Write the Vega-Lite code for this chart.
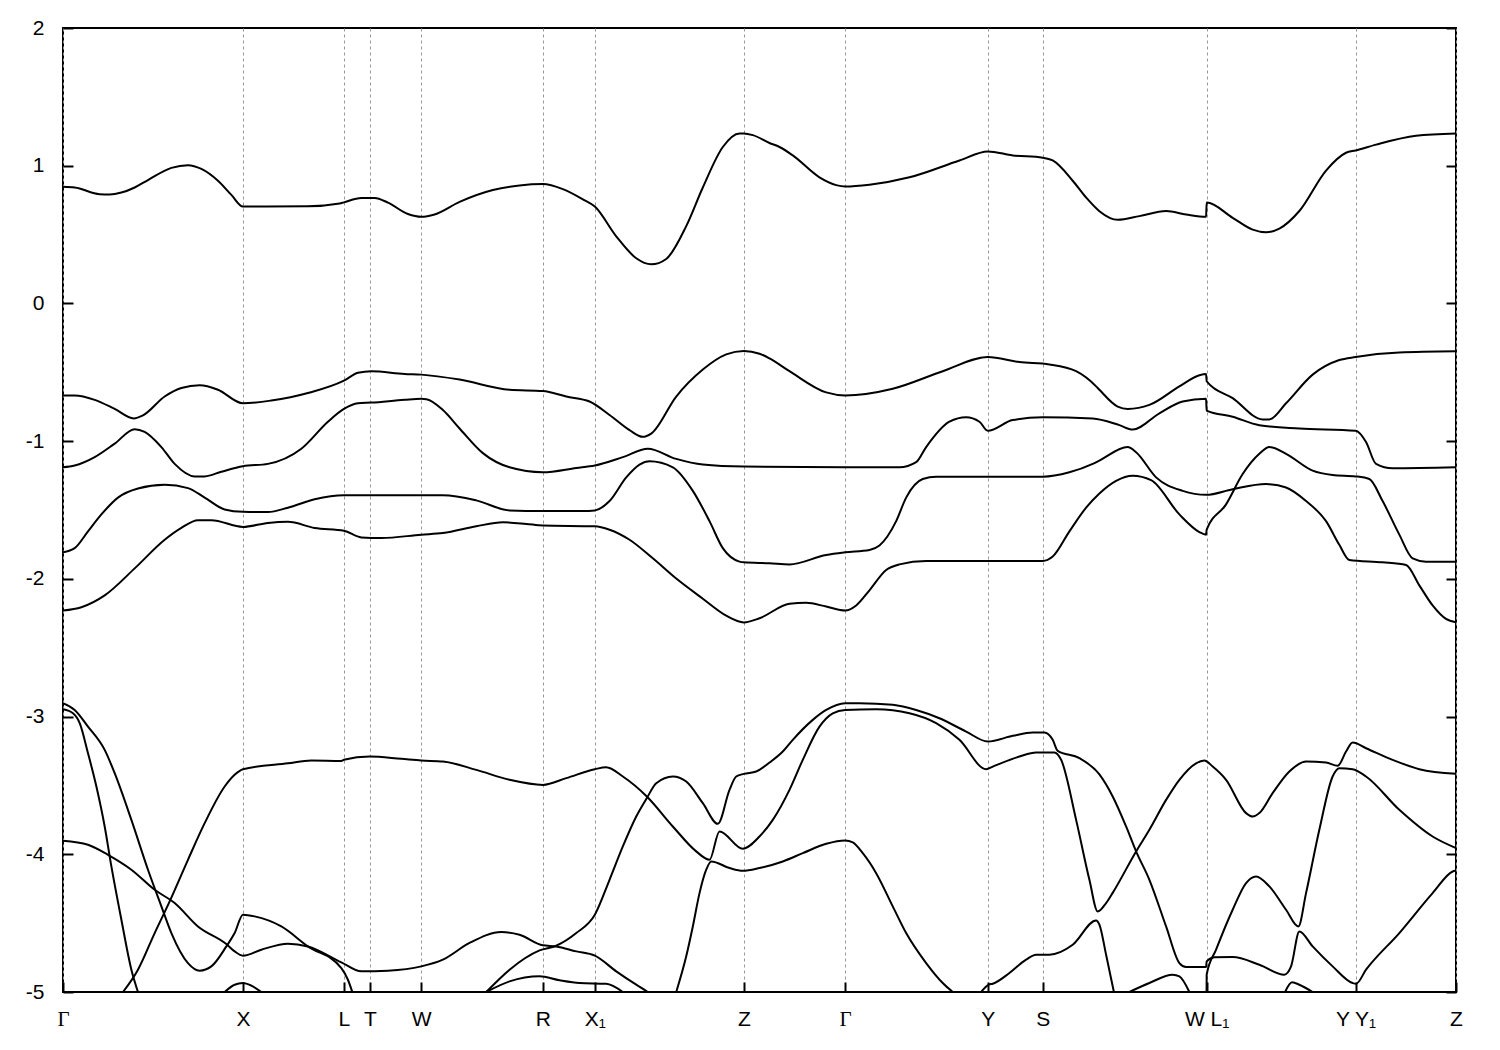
{
"$schema":"https://vega.github.io/schema/vega-lite/v6.json",
"width":1393,"height":964,
"autosize":{"type":"none"},
"padding":{"left":63,"top":28,"right":44,"bottom":58},
"background":"white",
"config":{"view":{"stroke":"black","strokeWidth":2},"axis":{"domain":false,"labelFont":"Liberation Sans","labelFontSize":21,"labelColor":"black","tickColor":"black","tickWidth":2,"tickSize":-10,"title":null,"labelFlush":false,"labelOverlap":false}},
"datasets":{"bands":[
{"b":"C","k":63.3,"e":0.847},{"b":"C","k":75,"e":0.842},{"b":"C","k":100,"e":0.793},{"b":"C","k":110,"e":0.791},{"b":"C","k":121.7,"e":0.805},{"b":"C","k":135,"e":0.842},{"b":"C","k":148.3,"e":0.896},{"b":"C","k":171.7,"e":0.984},{"b":"C","k":188.3,"e":1.004},{"b":"C","k":201.7,"e":0.977},{"b":"C","k":218.3,"e":0.891},{"b":"C","k":231.7,"e":0.788},{"b":"C","k":243.3,"e":0.703},{"b":"C","k":308.3,"e":0.705},{"b":"C","k":340,"e":0.725},{"b":"C","k":344.3,"e":0.734},{"b":"C","k":361.7,"e":0.766},{"b":"C","k":375,"e":0.766},{"b":"C","k":388.3,"e":0.732},{"b":"C","k":408.3,"e":0.649},{"b":"C","k":421.7,"e":0.629},{"b":"C","k":435,"e":0.646},{"b":"C","k":460,"e":0.737},{"b":"C","k":493.3,"e":0.823},{"b":"C","k":520,"e":0.857},{"b":"C","k":543.3,"e":0.867},{"b":"C","k":563.3,"e":0.83},{"b":"C","k":583.3,"e":0.756},{"b":"C","k":595.3,"e":0.703},{"b":"C","k":616.7,"e":0.487},{"b":"C","k":636.7,"e":0.328},{"b":"C","k":651.7,"e":0.284},{"b":"C","k":666.7,"e":0.323},{"b":"C","k":686.7,"e":0.561},{"b":"C","k":703.3,"e":0.842},{"b":"C","k":723.3,"e":1.136},{"b":"C","k":740,"e":1.234},{"b":"C","k":744.3,"e":1.234},{"b":"C","k":753.3,"e":1.222},{"b":"C","k":770,"e":1.165},{"b":"C","k":780,"e":1.136},{"b":"C","k":793.3,"e":1.075},{"b":"C","k":820,"e":0.916},{"b":"C","k":836.7,"e":0.859},{"b":"C","k":845.7,"e":0.849},{"b":"C","k":870,"e":0.862},{"b":"C","k":910,"e":0.916},{"b":"C","k":960,"e":1.038},{"b":"C","k":988.3,"e":1.104},{"b":"C","k":1013.3,"e":1.075},{"b":"C","k":1043.3,"e":1.058},{"b":"C","k":1053.3,"e":1.038},{"b":"C","k":1073.3,"e":0.891},{"b":"C","k":1086.7,"e":0.769},{"b":"C","k":1100,"e":0.67},{"b":"C","k":1118.3,"e":0.607},{"b":"C","k":1140,"e":0.634},{"b":"C","k":1166.7,"e":0.671},{"b":"C","k":1186.7,"e":0.646},{"b":"C","k":1206.7,"e":0.629},{"b":"C","k":1207.3,"e":0.732},{"b":"C","k":1233.3,"e":0.622},{"b":"C","k":1253.3,"e":0.536},{"b":"C","k":1266.7,"e":0.517},{"b":"C","k":1280,"e":0.543},{"b":"C","k":1300,"e":0.671},{"b":"C","k":1326.7,"e":0.965},{"b":"C","k":1346.7,"e":1.094},{"b":"C","k":1356.3,"e":1.111},{"b":"C","k":1376.7,"e":1.153},{"b":"C","k":1416.7,"e":1.217},{"b":"C","k":1456.7,"e":1.234},
{"b":"V1","k":63.3,"e":-0.668},{"b":"V1","k":75,"e":-0.668},{"b":"V1","k":95,"e":-0.7},{"b":"V1","k":115,"e":-0.766},{"b":"V1","k":134,"e":-0.835},{"b":"V1","k":143.3,"e":-0.813},{"b":"V1","k":165,"e":-0.676},{"b":"V1","k":181.7,"e":-0.614},{"b":"V1","k":200,"e":-0.595},{"b":"V1","k":218.3,"e":-0.627},{"b":"V1","k":243.3,"e":-0.725},{"b":"V1","k":271.7,"e":-0.705},{"b":"V1","k":308.3,"e":-0.651},{"b":"V1","k":344.3,"e":-0.561},{"b":"V1","k":358.3,"e":-0.504},{"b":"V1","k":371.7,"e":-0.492},{"b":"V1","k":405,"e":-0.512},{"b":"V1","k":421.7,"e":-0.517},{"b":"V1","k":460,"e":-0.553},{"b":"V1","k":510,"e":-0.627},{"b":"V1","k":543.3,"e":-0.636},{"b":"V1","k":566.7,"e":-0.676},{"b":"V1","k":590,"e":-0.712},{"b":"V1","k":610,"e":-0.81},{"b":"V1","k":630,"e":-0.92},{"b":"V1","k":643.3,"e":-0.969},{"b":"V1","k":651.7,"e":-0.945},{"b":"V1","k":676.7,"e":-0.676},{"b":"V1","k":703.3,"e":-0.48},{"b":"V1","k":726.7,"e":-0.37},{"b":"V1","k":744.3,"e":-0.345},{"b":"V1","k":760,"e":-0.365},{"b":"V1","k":770,"e":-0.399},{"b":"V1","k":790,"e":-0.492},{"b":"V1","k":826.7,"e":-0.646},{"b":"V1","k":845.7,"e":-0.668},{"b":"V1","k":893.3,"e":-0.619},{"b":"V1","k":943.3,"e":-0.492},{"b":"V1","k":988.3,"e":-0.389},{"b":"V1","k":1020,"e":-0.426},{"b":"V1","k":1050,"e":-0.443},{"b":"V1","k":1076.7,"e":-0.492},{"b":"V1","k":1096.7,"e":-0.602},{"b":"V1","k":1100,"e":-0.627},{"b":"V1","k":1118.3,"e":-0.749},{"b":"V1","k":1128.3,"e":-0.766},{"b":"V1","k":1150,"e":-0.737},{"b":"V1","k":1180,"e":-0.602},{"b":"V1","k":1200,"e":-0.521},{"b":"V1","k":1206.7,"e":-0.512},{"b":"V1","k":1207.3,"e":-0.565},{"b":"V1","k":1233.3,"e":-0.688},{"b":"V1","k":1263.3,"e":-0.842},{"b":"V1","k":1270,"e":-0.842},{"b":"V1","k":1286.7,"e":-0.725},{"b":"V1","k":1313.3,"e":-0.517},{"b":"V1","k":1340,"e":-0.411},{"b":"V1","k":1356.3,"e":-0.389},{"b":"V1","k":1400,"e":-0.357},{"b":"V1","k":1456.7,"e":-0.348},
{"b":"V2","k":63.3,"e":-1.19},{"b":"V2","k":75,"e":-1.177},{"b":"V2","k":95,"e":-1.116},{"b":"V2","k":115,"e":-1.018},{"b":"V2","k":135,"e":-0.913},{"b":"V2","k":145,"e":-0.933},{"b":"V2","k":161.7,"e":-1.043},{"b":"V2","k":175,"e":-1.165},{"b":"V2","k":195,"e":-1.256},{"b":"V2","k":205,"e":-1.256},{"b":"V2","k":221.7,"e":-1.222},{"b":"V2","k":243.3,"e":-1.182},{"b":"V2","k":268.3,"e":-1.165},{"b":"V2","k":301.7,"e":-1.055},{"b":"V2","k":328.3,"e":-0.859},{"b":"V2","k":344.3,"e":-0.766},{"b":"V2","k":358.3,"e":-0.725},{"b":"V2","k":371.7,"e":-0.72},{"b":"V2","k":405,"e":-0.7},{"b":"V2","k":421.7,"e":-0.693},{"b":"V2","k":426.7,"e":-0.695},{"b":"V2","k":443.3,"e":-0.774},{"b":"V2","k":460,"e":-0.908},{"b":"V2","k":483.3,"e":-1.087},{"b":"V2","k":510,"e":-1.19},{"b":"V2","k":543.3,"e":-1.226},{"b":"V2","k":576.7,"e":-1.195},{"b":"V2","k":595.3,"e":-1.177},{"b":"V2","k":623.3,"e":-1.116},{"b":"V2","k":648.3,"e":-1.055},{"b":"V2","k":676.7,"e":-1.129},{"b":"V2","k":703.3,"e":-1.17},{"b":"V2","k":744.3,"e":-1.185},{"b":"V2","k":845.7,"e":-1.19},{"b":"V2","k":900,"e":-1.19},{"b":"V2","k":916.7,"e":-1.153},{"b":"V2","k":926.7,"e":-1.043},{"b":"V2","k":950,"e":-0.859},{"b":"V2","k":966.7,"e":-0.827},{"b":"V2","k":980,"e":-0.859},{"b":"V2","k":988.3,"e":-0.925},{"b":"V2","k":1013.3,"e":-0.847},{"b":"V2","k":1043.3,"e":-0.827},{"b":"V2","k":1093.3,"e":-0.835},{"b":"V2","k":1120,"e":-0.884},{"b":"V2","k":1133.3,"e":-0.916},{"b":"V2","k":1160,"e":-0.798},{"b":"V2","k":1183.3,"e":-0.712},{"b":"V2","k":1206.7,"e":-0.693},{"b":"V2","k":1207.3,"e":-0.778},{"b":"V2","k":1233.3,"e":-0.823},{"b":"V2","k":1260,"e":-0.884},{"b":"V2","k":1300,"e":-0.908},{"b":"V2","k":1356.3,"e":-0.925},{"b":"V2","k":1366.7,"e":-1.006},{"b":"V2","k":1376.7,"e":-1.165},{"b":"V2","k":1393.3,"e":-1.197},{"b":"V2","k":1456.7,"e":-1.19},
{"b":"V3","k":63.3,"e":-1.807},{"b":"V3","k":75,"e":-1.777},{"b":"V3","k":88.3,"e":-1.655},{"b":"V3","k":101.7,"e":-1.532},{"b":"V3","k":118.3,"e":-1.41},{"b":"V3","k":138.3,"e":-1.344},{"b":"V3","k":165,"e":-1.317},{"b":"V3","k":188.3,"e":-1.341},{"b":"V3","k":205,"e":-1.41},{"b":"V3","k":225,"e":-1.496},{"b":"V3","k":243.3,"e":-1.513},{"b":"V3","k":268.3,"e":-1.515},{"b":"V3","k":288.3,"e":-1.483},{"b":"V3","k":315,"e":-1.422},{"b":"V3","k":344.3,"e":-1.393},{"b":"V3","k":443.3,"e":-1.393},{"b":"V3","k":476.7,"e":-1.43},{"b":"V3","k":510,"e":-1.503},{"b":"V3","k":543.3,"e":-1.508},{"b":"V3","k":583.3,"e":-1.508},{"b":"V3","k":595.3,"e":-1.503},{"b":"V3","k":610,"e":-1.435},{"b":"V3","k":626.7,"e":-1.263},{"b":"V3","k":640,"e":-1.17},{"b":"V3","k":650,"e":-1.146},{"b":"V3","k":673.3,"e":-1.19},{"b":"V3","k":693.3,"e":-1.361},{"b":"V3","k":710,"e":-1.581},{"b":"V3","k":723.3,"e":-1.777},{"b":"V3","k":740,"e":-1.875},{"b":"V3","k":744.3,"e":-1.88},{"b":"V3","k":770,"e":-1.887},{"b":"V3","k":790,"e":-1.895},{"b":"V3","k":826.7,"e":-1.826},{"b":"V3","k":845.7,"e":-1.807},{"b":"V3","k":870,"e":-1.79},{"b":"V3","k":880,"e":-1.758},{"b":"V3","k":896.7,"e":-1.581},{"b":"V3","k":906.7,"e":-1.41},{"b":"V3","k":923.3,"e":-1.275},{"b":"V3","k":936.7,"e":-1.258},{"b":"V3","k":1043.3,"e":-1.258},{"b":"V3","k":1070,"e":-1.226},{"b":"V3","k":1093.3,"e":-1.165},{"b":"V3","k":1100,"e":-1.141},{"b":"V3","k":1128.3,"e":-1.043},{"b":"V3","k":1136.7,"e":-1.08},{"b":"V3","k":1156.7,"e":-1.263},{"b":"V3","k":1183.3,"e":-1.361},{"b":"V3","k":1206.7,"e":-1.39},{"b":"V3","k":1233.3,"e":-1.349},{"b":"V3","k":1266.7,"e":-1.312},{"b":"V3","k":1286.7,"e":-1.337},{"b":"V3","k":1306.7,"e":-1.435},{"b":"V3","k":1326.7,"e":-1.581},{"b":"V3","k":1340,"e":-1.753},{"b":"V3","k":1350,"e":-1.863},{"b":"V3","k":1383.3,"e":-1.88},{"b":"V3","k":1406.7,"e":-1.9},{"b":"V3","k":1420,"e":-2.047},{"b":"V3","k":1433.3,"e":-2.193},{"b":"V3","k":1446.7,"e":-2.291},{"b":"V3","k":1456.7,"e":-2.316},
{"b":"V4","k":63.3,"e":-2.23},{"b":"V4","k":81.7,"e":-2.206},{"b":"V4","k":105,"e":-2.12},{"b":"V4","k":135,"e":-1.924},{"b":"V4","k":165,"e":-1.716},{"b":"V4","k":181.7,"e":-1.63},{"b":"V4","k":198.3,"e":-1.574},{"b":"V4","k":211.7,"e":-1.574},{"b":"V4","k":243.3,"e":-1.623},{"b":"V4","k":268.3,"e":-1.594},{"b":"V4","k":288.3,"e":-1.586},{"b":"V4","k":315,"e":-1.63},{"b":"V4","k":344.3,"e":-1.65},{"b":"V4","k":361.7,"e":-1.699},{"b":"V4","k":381.7,"e":-1.704},{"b":"V4","k":421.7,"e":-1.679},{"b":"V4","k":443.3,"e":-1.667},{"b":"V4","k":476.7,"e":-1.618},{"b":"V4","k":503.3,"e":-1.589},{"b":"V4","k":526.7,"e":-1.601},{"b":"V4","k":543.3,"e":-1.613},{"b":"V4","k":595.3,"e":-1.618},{"b":"V4","k":610,"e":-1.643},{"b":"V4","k":630,"e":-1.716},{"b":"V4","k":653.3,"e":-1.851},{"b":"V4","k":676.7,"e":-1.998},{"b":"V4","k":703.3,"e":-2.144},{"b":"V4","k":726.7,"e":-2.267},{"b":"V4","k":744.3,"e":-2.316},{"b":"V4","k":760,"e":-2.286},{"b":"V4","k":790,"e":-2.181},{"b":"V4","k":806.7,"e":-2.174},{"b":"V4","k":826.7,"e":-2.201},{"b":"V4","k":845.7,"e":-2.23},{"b":"V4","k":856.7,"e":-2.193},{"b":"V4","k":870,"e":-2.083},{"b":"V4","k":886.7,"e":-1.936},{"b":"V4","k":900,"e":-1.895},{"b":"V4","k":926.7,"e":-1.87},{"b":"V4","k":1043.3,"e":-1.87},{"b":"V4","k":1053.3,"e":-1.838},{"b":"V4","k":1070,"e":-1.655},{"b":"V4","k":1086.7,"e":-1.483},{"b":"V4","k":1100,"e":-1.38},{"b":"V4","k":1116.7,"e":-1.288},{"b":"V4","k":1133.3,"e":-1.251},{"b":"V4","k":1151.7,"e":-1.283},{"b":"V4","k":1180,"e":-1.532},{"b":"V4","k":1200,"e":-1.66},{"b":"V4","k":1206.7,"e":-1.679},{"b":"V4","k":1207.3,"e":-1.643},{"b":"V4","k":1226.7,"e":-1.459},{"b":"V4","k":1243.3,"e":-1.239},{"b":"V4","k":1260,"e":-1.092},{"b":"V4","k":1270,"e":-1.043},{"b":"V4","k":1286.7,"e":-1.092},{"b":"V4","k":1313.3,"e":-1.214},{"b":"V4","k":1333.3,"e":-1.246},{"b":"V4","k":1356.3,"e":-1.256},{"b":"V4","k":1370,"e":-1.275},{"b":"V4","k":1383.3,"e":-1.435},{"b":"V4","k":1400,"e":-1.679},{"b":"V4","k":1413.3,"e":-1.851},{"b":"V4","k":1426.7,"e":-1.875},{"b":"V4","k":1456.7,"e":-1.875},
{"b":"A","k":63.3,"e":-2.903},{"b":"A","k":75,"e":-2.952},{"b":"A","k":88.3,"e":-3.073},{"b":"A","k":105,"e":-3.242},{"b":"A","k":115,"e":-3.411},{"b":"A","k":131.7,"e":-3.75},{"b":"A","k":148.3,"e":-4.112},{"b":"A","k":161.7,"e":-4.378},{"b":"A","k":171.7,"e":-4.572},{"b":"A","k":188.3,"e":-4.79},{"b":"A","k":200,"e":-4.845},{"b":"A","k":211.7,"e":-4.814},{"b":"A","k":226.7,"e":-4.669},{"b":"A","k":235,"e":-4.572},{"b":"A","k":243.3,"e":-4.439},{"b":"A","k":255,"e":-4.451},{"b":"A","k":281.7,"e":-4.524},{"b":"A","k":308.3,"e":-4.669},{"b":"A","k":341.7,"e":-4.826},{"b":"A","k":348.3,"e":-4.911},{"b":"A","k":352.7,"e":-5.0},
{"b":"B","k":63.3,"e":-3.902},{"b":"B","k":88.3,"e":-3.931},{"b":"B","k":108.3,"e":-4.004},{"b":"B","k":131.7,"e":-4.112},{"b":"B","k":155,"e":-4.258},{"b":"B","k":175,"e":-4.354},{"b":"B","k":198.3,"e":-4.524},{"b":"B","k":226.7,"e":-4.652},{"b":"B","k":235,"e":-4.705},{"b":"B","k":243.3,"e":-4.736},{"b":"B","k":261.7,"e":-4.693},{"b":"B","k":288.3,"e":-4.649},{"b":"B","k":308.3,"e":-4.669},{"b":"B","k":341.7,"e":-4.785},{"b":"B","k":361.7,"e":-4.85},{"b":"B","k":388.3,"e":-4.845},{"b":"B","k":421.7,"e":-4.814},{"b":"B","k":443.3,"e":-4.765},{"b":"B","k":470,"e":-4.644},{"b":"B","k":501.7,"e":-4.565},{"b":"B","k":520,"e":-4.584},{"b":"B","k":543.3,"e":-4.661},{"b":"B","k":556.7,"e":-4.669},{"b":"B","k":576.7,"e":-4.705},{"b":"B","k":595.3,"e":-4.736},{"b":"B","k":616.7,"e":-4.85},{"b":"B","k":636.7,"e":-4.947},{"b":"B","k":648.3,"e":-5.0},
{"b":"Cs","k":63.3,"e":-2.947},{"b":"Cs","k":73.3,"e":-2.976},{"b":"Cs","k":80,"e":-3.048},{"b":"Cs","k":88.3,"e":-3.266},{"b":"Cs","k":96.7,"e":-3.508},{"b":"Cs","k":105,"e":-3.798},{"b":"Cs","k":111.7,"e":-4.088},{"b":"Cs","k":121.7,"e":-4.475},{"b":"Cs","k":131.7,"e":-4.838},{"b":"Cs","k":138.3,"e":-5.0},
{"b":"D","k":123.3,"e":-5.0},{"b":"D","k":138.3,"e":-4.838},{"b":"D","k":155,"e":-4.572},{"b":"D","k":170,"e":-4.342},{"b":"D","k":188.3,"e":-4.04},{"b":"D","k":205,"e":-3.774},{"b":"D","k":225,"e":-3.508},{"b":"D","k":235,"e":-3.423},{"b":"D","k":243.3,"e":-3.382},{"b":"D","k":288.3,"e":-3.339},{"b":"D","k":311.7,"e":-3.319},{"b":"D","k":341.7,"e":-3.322},{"b":"D","k":344.3,"e":-3.314},{"b":"D","k":370,"e":-3.29},{"b":"D","k":401.7,"e":-3.307},{"b":"D","k":421.7,"e":-3.319},{"b":"D","k":443.3,"e":-3.326},{"b":"D","k":476.7,"e":-3.387},{"b":"D","k":510,"e":-3.459},{"b":"D","k":543.3,"e":-3.496},{"b":"D","k":566.7,"e":-3.447},{"b":"D","k":595.3,"e":-3.382},{"b":"D","k":606.7,"e":-3.368},{"b":"D","k":623.3,"e":-3.435},{"b":"D","k":647.3,"e":-3.58},{"b":"D","k":673.3,"e":-3.798},{"b":"D","k":696.7,"e":-3.979},{"b":"D","k":710,"e":-4.04},{"b":"D","k":720,"e":-3.834},{"b":"D","k":743.3,"e":-3.96},{"b":"D","k":760,"e":-3.871},{"b":"D","k":773.3,"e":-3.75},{"b":"D","k":790,"e":-3.532},{"b":"D","k":803.3,"e":-3.314},{"b":"D","k":820,"e":-3.073},{"b":"D","k":833.3,"e":-2.976},{"b":"D","k":845.7,"e":-2.952},{"b":"D","k":876.7,"e":-2.947},{"b":"D","k":910,"e":-2.976},{"b":"D","k":936.7,"e":-3.048},{"b":"D","k":960,"e":-3.169},{"b":"D","k":986.7,"e":-3.382},{"b":"D","k":993.3,"e":-3.363},{"b":"D","k":1020,"e":-3.29},{"b":"D","k":1036.7,"e":-3.261},{"b":"D","k":1055,"e":-3.261},{"b":"D","k":1061.7,"e":-3.314},{"b":"D","k":1076.7,"e":-3.75},{"b":"D","k":1090,"e":-4.185},{"b":"D","k":1098.3,"e":-4.415},{"b":"D","k":1106.7,"e":-4.354},{"b":"D","k":1113.3,"e":-4.28},{"b":"D","k":1136.7,"e":-3.979},{"b":"D","k":1150,"e":-3.822},{"b":"D","k":1166.7,"e":-3.605},{"b":"D","k":1180,"e":-3.459},{"b":"D","k":1196.7,"e":-3.339},{"b":"D","k":1205,"e":-3.319},{"b":"D","k":1213.3,"e":-3.363},{"b":"D","k":1226.7,"e":-3.459},{"b":"D","k":1246.7,"e":-3.701},{"b":"D","k":1253.3,"e":-3.726},{"b":"D","k":1260,"e":-3.701},{"b":"D","k":1273.3,"e":-3.556},{"b":"D","k":1290,"e":-3.399},{"b":"D","k":1306.7,"e":-3.326},{"b":"D","k":1326.7,"e":-3.334},{"b":"D","k":1338.3,"e":-3.358},{"b":"D","k":1346.7,"e":-3.254},{"b":"D","k":1353.3,"e":-3.189},{"b":"D","k":1366.7,"e":-3.23},{"b":"D","k":1393.3,"e":-3.314},{"b":"D","k":1420,"e":-3.382},{"b":"D","k":1456.7,"e":-3.416},
{"b":"F","k":486.7,"e":-5.0},{"b":"F","k":510,"e":-4.838},{"b":"F","k":540,"e":-4.698},{"b":"F","k":556.7,"e":-4.664},{"b":"F","k":576.7,"e":-4.572},{"b":"F","k":595.3,"e":-4.439},{"b":"F","k":610,"e":-4.185},{"b":"F","k":623.3,"e":-3.943},{"b":"F","k":636.7,"e":-3.726},{"b":"F","k":647.3,"e":-3.592},{"b":"F","k":656.7,"e":-3.484},{"b":"F","k":673.3,"e":-3.435},{"b":"F","k":686.7,"e":-3.472},{"b":"F","k":703.3,"e":-3.629},{"b":"F","k":718.3,"e":-3.779},{"b":"F","k":730,"e":-3.532},{"b":"F","k":736.7,"e":-3.435},{"b":"F","k":744.3,"e":-3.416},{"b":"F","k":756.7,"e":-3.399},{"b":"F","k":770,"e":-3.334},{"b":"F","k":783.3,"e":-3.254},{"b":"F","k":793.3,"e":-3.169},{"b":"F","k":813.3,"e":-3.024},{"b":"F","k":826.7,"e":-2.952},{"b":"F","k":845.7,"e":-2.903},{"b":"F","k":860,"e":-2.903},{"b":"F","k":893.3,"e":-2.915},{"b":"F","k":916.7,"e":-2.952},{"b":"F","k":940,"e":-3.012},{"b":"F","k":966.7,"e":-3.109},{"b":"F","k":988.3,"e":-3.181},{"b":"F","k":1013.3,"e":-3.14},{"b":"F","k":1033.3,"e":-3.116},{"b":"F","k":1045,"e":-3.116},{"b":"F","k":1053.3,"e":-3.169},{"b":"F","k":1058.3,"e":-3.249},{"b":"F","k":1080,"e":-3.302},{"b":"F","k":1100,"e":-3.42},{"b":"F","k":1113.3,"e":-3.58},{"b":"F","k":1126.7,"e":-3.798},{"b":"F","k":1136.7,"e":-3.979},{"b":"F","k":1150,"e":-4.185},{"b":"F","k":1166.7,"e":-4.524},{"b":"F","k":1180,"e":-4.79},{"b":"F","k":1186.7,"e":-4.819},{"b":"F","k":1206.7,"e":-4.819},{"b":"F","k":1207.3,"e":-4.778},{"b":"F","k":1215,"e":-4.748},{"b":"F","k":1233.3,"e":-4.746},{"b":"F","k":1260,"e":-4.802},{"b":"F","k":1285,"e":-4.874},{"b":"F","k":1291.7,"e":-4.814},{"b":"F","k":1300,"e":-4.56},{"b":"F","k":1313.3,"e":-4.669},{"b":"F","k":1333.3,"e":-4.814},{"b":"F","k":1353.3,"e":-4.935},{"b":"F","k":1356.7,"e":-4.94},{"b":"F","k":1366.7,"e":-4.838},{"b":"F","k":1400,"e":-4.572},{"b":"F","k":1433.3,"e":-4.282},{"b":"F","k":1453.3,"e":-4.125},{"b":"F","k":1456.7,"e":-4.117},
{"b":"R","k":676.7,"e":-5.0},{"b":"R","k":686.7,"e":-4.741},{"b":"R","k":693.3,"e":-4.524},{"b":"R","k":700,"e":-4.282},{"b":"R","k":706.7,"e":-4.112},{"b":"R","k":711.7,"e":-4.052},{"b":"R","k":730,"e":-4.1},{"b":"R","k":743.3,"e":-4.12},{"b":"R","k":760,"e":-4.1},{"b":"R","k":783.3,"e":-4.052},{"b":"R","k":803.3,"e":-3.992},{"b":"R","k":826.7,"e":-3.924},{"b":"R","k":845.7,"e":-3.9},{"b":"R","k":853.3,"e":-3.914},{"b":"R","k":863.3,"e":-3.992},{"b":"R","k":876.7,"e":-4.137},{"b":"R","k":893.3,"e":-4.378},{"b":"R","k":906.7,"e":-4.572},{"b":"R","k":926.7,"e":-4.79},{"b":"R","k":943.3,"e":-4.935},{"b":"R","k":953.3,"e":-5.0},
{"b":"E","k":225,"e":-5.0},{"b":"E","k":235,"e":-4.947},{"b":"E","k":243.3,"e":-4.935},{"b":"E","k":251.7,"e":-4.954},{"b":"E","k":261.7,"e":-5.0},
{"b":"H","k":486.7,"e":-5.0},{"b":"H","k":510,"e":-4.923},{"b":"H","k":540,"e":-4.886},{"b":"H","k":560,"e":-4.915},{"b":"H","k":580,"e":-4.935},{"b":"H","k":606.7,"e":-4.94},{"b":"H","k":623.3,"e":-5.0},
{"b":"T4","k":981.7,"e":-5.0},{"b":"T4","k":989.3,"e":-4.947},{"b":"T4","k":993.3,"e":-4.94},{"b":"T4","k":1010,"e":-4.862},{"b":"T4","k":1026.7,"e":-4.765},{"b":"T4","k":1036.7,"e":-4.729},{"b":"T4","k":1050,"e":-4.729},{"b":"T4","k":1073.3,"e":-4.657},{"b":"T4","k":1096.7,"e":-4.48},{"b":"T4","k":1100,"e":-4.51},{"b":"T4","k":1106.7,"e":-4.73},{"b":"T4","k":1114.5,"e":-5.0},
{"b":"G4","k":1130,"e":-5.0},{"b":"G4","k":1150,"e":-4.935},{"b":"G4","k":1173.3,"e":-4.874},{"b":"G4","k":1180,"e":-4.886},{"b":"G4","k":1190,"e":-5.0},
{"b":"L5","k":1207.2,"e":-5.0},{"b":"L5","k":1207.3,"e":-4.874},{"b":"L5","k":1216.7,"e":-4.693},{"b":"L5","k":1233.3,"e":-4.403},{"b":"L5","k":1246.7,"e":-4.209},{"b":"L5","k":1256.7,"e":-4.161},{"b":"L5","k":1270,"e":-4.233},{"b":"L5","k":1286.7,"e":-4.403},{"b":"L5","k":1299,"e":-4.524},{"b":"L5","k":1306.7,"e":-4.282},{"b":"L5","k":1320,"e":-3.822},{"b":"L5","k":1333.3,"e":-3.435},{"b":"L5","k":1340,"e":-3.375},{"b":"L5","k":1353.3,"e":-3.382},{"b":"L5","k":1366.7,"e":-3.435},{"b":"L5","k":1400,"e":-3.677},{"b":"L5","k":1433.3,"e":-3.871},{"b":"L5","k":1456.7,"e":-3.955},
{"b":"S","k":1285.7,"e":-5.0},{"b":"S","k":1292.7,"e":-4.93},{"b":"S","k":1300,"e":-4.947},{"b":"S","k":1313.3,"e":-5.0}
]},
"layer":[
{"data":{"name":"bands"},
 "mark":{"type":"line","color":"black","strokeWidth":2,"clip":true,"interpolate":"monotone"},
 "encoding":{
  "x":{"field":"k","type":"quantitative","scale":{"domain":[63.3,1456.7],"nice":false,"zero":false},
   "axis":{"values":[63.3,243.3,344.3,370.3,421.5,543.3,595.3,744.3,845.7,988.3,1043.3,1207.3,1356.3,1456.7],
    "labelExpr":"datum.value<100?'Γ':datum.value<300?'X':datum.value<360?'L':datum.value<400?'T':datum.value<500?'W':datum.value<570?'R':datum.value<650?'X₁':datum.value<800?'Z':datum.value<900?'Γ':datum.value<1000?'Y':datum.value<1100?'S':datum.value<1300?'W L₁':datum.value<1400?'Y Y₁':'Z'",
    "labelFont":{"condition":{"test":"datum.value<100 || (datum.value>800 && datum.value<900)","value":"Liberation Serif"},"value":"Liberation Sans"},
    "grid":true,"gridDash":[3,3],"gridColor":"#999999","gridWidth":1,"labelPadding":26}},
  "y":{"field":"e","type":"quantitative","scale":{"domain":[-5,2],"nice":false,"zero":false},
   "axis":{"values":[-5,-4,-3,-2,-1,0,1,2],"labelExpr":"''+datum.value","grid":false,"labelPadding":29}},
  "detail":{"field":"b","type":"nominal"}}},
{"mark":{"type":"rule","color":"#56b4e9","strokeWidth":2},
 "encoding":{"y":{"datum":0,"type":"quantitative","axis":{"orient":"right","labels":false,"grid":false,"values":[-5,-4,-3,-2,-1,0,1,2]}}}}
],
"resolve":{"axis":{"y":"independent"}}
}
